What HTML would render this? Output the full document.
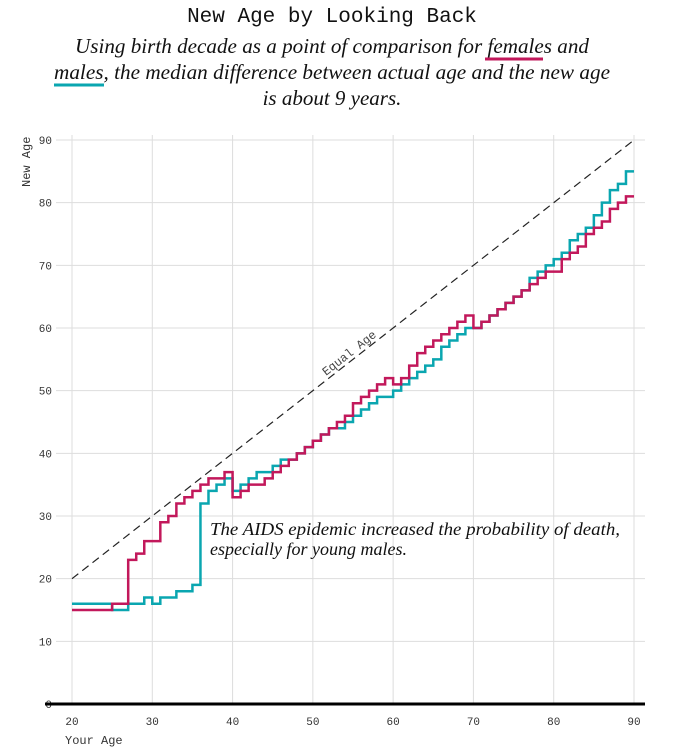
<!DOCTYPE html>
<html><head><meta charset="utf-8"><style>
body{margin:0;background:#fff;width:694px;height:755px;overflow:hidden}
svg{position:absolute;left:0;top:0}
</style></head><body>
<svg id="c" width="694" height="755">
<text x="332" y="22" text-anchor="middle" font-family="Liberation Mono, monospace" font-size="21" fill="#111">New Age by Looking Back</text>
<g font-family="Liberation Serif, serif" font-style="italic" font-size="21" fill="#111" text-anchor="middle">
<text x="332" y="53" textLength="514" lengthAdjust="spacingAndGlyphs">Using birth decade as a point of comparison for females and</text>
<text x="332" y="79" textLength="556" lengthAdjust="spacingAndGlyphs">males, the median difference between actual age and the new age</text>
<text x="332" y="105">is about 9 years.</text>
</g>
<line x1="485" y1="59" x2="543" y2="59" stroke="#c2185b" stroke-width="3"/>
<line x1="54" y1="85" x2="104" y2="85" stroke="#0aa6b0" stroke-width="3"/>
<g id="grid"></g><g id="marks"></g>
<text x="30" y="187" transform="rotate(-90 30 187)" font-family="Liberation Mono, monospace" font-size="12" fill="#333">New Age</text>
<text x="65" y="744" font-family="Liberation Mono, monospace" font-size="12" fill="#333">Your Age</text>
<text x="326" y="376" transform="rotate(-38 326 376)" font-family="Liberation Mono, monospace" font-size="12" fill="#444">Equal Age</text>
<g font-family="Liberation Serif, serif" font-style="italic" font-size="18" fill="#111">
<text x="210" y="535" textLength="410" lengthAdjust="spacingAndGlyphs">The AIDS epidemic increased the probability of death,</text>
<text x="210" y="555">especially for young males.</text>
</g>
</svg>
<script>
const xTicks=[20,30,40,50,60,70,80,90];
const yTicks=[0,10,20,30,40,50,60,70,80,90];
const ages=[];for(let a=20;a<=89;a++)ages.push(a);
const females=[15,15,15,15,15,16,16,23,24,26,26,29,30,32,33,34,35,36,36,37,33,34,35,35,36,37,38,39,40,41,42,43,44,45,46,48,49,50,51,52,51,52,54,56,57,58,59,60,61,62,60,61,62,63,64,65,66,67,68,69,69,71,72,73,75,76,77,79,80,81];
const males=[16,16,16,16,16,15,15,16,16,17,16,17,17,18,18,19,32,34,35,36,34,35,36,37,37,38,39,39,40,41,42,43,44,44,45,46,47,48,49,49,50,51,52,53,54,55,57,58,59,60,60,61,62,63,64,65,66,68,69,70,71,72,74,75,76,78,80,82,83,85];
const X=v=>72+(v-20)*562/70, Y=v=>704-v*564/90;
const NS='http://www.w3.org/2000/svg';
const g=document.getElementById('grid'),m=document.getElementById('marks');
function el(t,a,p){const e=document.createElementNS(NS,t);for(const k in a)e.setAttribute(k,a[k]);p.appendChild(e);return e;}
yTicks.forEach(v=>{
 const l=el('line',{x1:56,x2:645,y1:Y(v),y2:Y(v),stroke:'#ddd'},g);
 
 
 const t=el('text',{x:52,y:Y(v)+4,'text-anchor':'end','font-family':'Liberation Mono, monospace','font-size':11,fill:'#333'},g);t.textContent=v;
 
 
});
xTicks.forEach(v=>{
 const l=el('line',{x1:X(v),x2:X(v),y1:135,y2:704,stroke:'#ddd'},g);
 
 
 const t=el('text',{x:X(v),y:725,'text-anchor':'middle','font-family':'Liberation Mono, monospace','font-size':11,fill:'#333'},g);t.textContent=v;
 
 
});
const ax=el('line',{x1:45,x2:645,y1:704,y2:704,stroke:'#000','stroke-width':3},g);


const eq=el('line',{x1:X(20),y1:Y(20),x2:X(90),y2:Y(90),stroke:'#222','stroke-dasharray':'8,5','stroke-width':1.2},m);


function step(vals,col,name){
 let d='';ages.forEach((a,i)=>{d+=(i?'L':'M')+X(a)+','+Y(vals[i])+'L'+X(a+1)+','+Y(vals[i]);});
 const p=el('path',{d:d,fill:'none',stroke:col,'stroke-width':2.5},m);
 
 
}
step(males,'#0aa6b0','males-line');
step(females,'#c2185b','females-line');
</script>
</body></html>
